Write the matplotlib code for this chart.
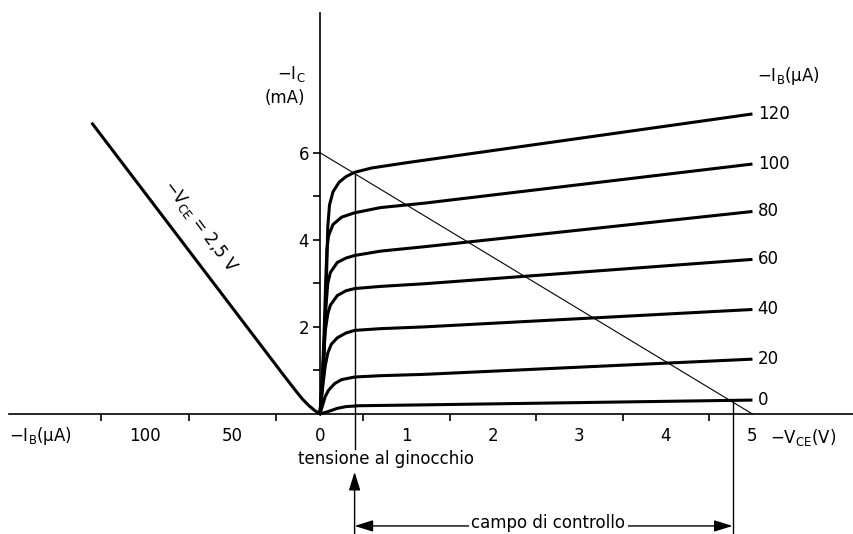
import numpy as np
import matplotlib.pyplot as plt
from matplotlib.ticker import FixedLocator, NullFormatter

plt.rcParams['font.family'] = ['DejaVu Sans']
plt.rcParams['mathtext.fontset'] = 'dejavusans'

# --- output characteristics, -I_C (mA) vs -V_CE (V) ---
ib_values = [120, 100, 80, 60, 40, 20, 0]

v_120 = [0, 0.03, 0.05, 0.065, 0.08, 0.09, 0.11, 0.15, 0.22, 0.3, 0.4, 0.6, 1.0, 5.0]
i_120 = [0, 0.7, 1.5, 2.5, 3.5, 4.3, 4.8, 5.1, 5.32, 5.45, 5.55, 5.65, 5.77, 6.89]
v_100 = [0, 0.03, 0.05, 0.065, 0.08, 0.1, 0.15, 0.25, 0.4, 0.7, 1.2, 5.0]
i_100 = [0, 1.0, 2.0, 3.0, 3.8, 4.1, 4.35, 4.52, 4.62, 4.74, 4.84, 5.74]
v_80 = [0, 0.03, 0.05, 0.07, 0.09, 0.12, 0.2, 0.3, 0.4, 0.7, 1.2, 5.0]
i_80 = [0, 0.8, 1.7, 2.5, 3.0, 3.25, 3.48, 3.58, 3.64, 3.74, 3.84, 4.65]
v_60 = [0, 0.03, 0.06, 0.09, 0.12, 0.2, 0.3, 0.4, 0.7, 1.2, 5.0]
i_60 = [0, 0.9, 1.9, 2.3, 2.5, 2.72, 2.83, 2.88, 2.93, 2.99, 3.55]
v_40 = [0, 0.03, 0.06, 0.09, 0.13, 0.2, 0.3, 0.4, 0.7, 1.2, 5.0]
i_40 = [0, 0.6, 1.1, 1.4, 1.6, 1.75, 1.86, 1.92, 1.96, 2.0, 2.4]
v_20 = [0, 0.03, 0.06, 0.1, 0.17, 0.25, 0.4, 0.7, 1.2, 5.0]
i_20 = [0, 0.2, 0.4, 0.55, 0.7, 0.79, 0.85, 0.88, 0.91, 1.26]
v_0 = [0, 0.1, 0.2, 0.3, 0.45, 1.2, 5.0]
i_0 = [0, 0.06, 0.13, 0.17, 0.19, 0.21, 0.32]

# --- input/transfer curve, -I_C vs -I_B at -V_CE = 2.5 V ---
ib_in = [0, 3, 6, 10, 14, 20, 130]
ic_in = [0, 0.08, 0.18, 0.34, 0.54, 0.85, 6.66]

# --- load line and working range ---
v_load = [0, 5]
i_load = [6, 0]
v_knee = 0.4
v_sat_end = 4.77

curves = [(v_120, i_120), (v_100, i_100), (v_80, i_80), (v_60, i_60),
          (v_40, i_40), (v_20, i_20), (v_0, i_0)]

W, H = 854, 534
x0 = 320  # pixel column of the origin
ylim = (-2.755, 9.506)

fig = plt.figure(figsize=(W / 100, H / 100), dpi=100)
ax_l = fig.add_axes([0, 0, x0 / W, 1])
ax_r = fig.add_axes([x0 / W, 0, (W - x0) / W, 1])

for ax in (ax_l, ax_r):
    ax.set_ylim(*ylim)
    ax.patch.set_alpha(0)
    for s in ('top', 'right', 'left', 'bottom'):
        ax.spines[s].set_visible(False)
    ax.tick_params(labelsize=12)

ax_l.set_xlim(182.9, 0)
ax_r.set_xlim(0, 6.174)

lw_axis = 1.2
# x axis (both halves)
for ax, lo, hi in ((ax_l, 178, 0), (ax_r, 0, 6.174)):
    ax.spines['bottom'].set_visible(True)
    ax.spines['bottom'].set_position(('data', 0))
    ax.spines['bottom'].set_linewidth(lw_axis)
    ax.spines['bottom'].set_bounds(lo, hi)

# y axis
ax_r.spines['left'].set_visible(True)
ax_r.spines['left'].set_position(('data', 0))
ax_r.spines['left'].set_linewidth(lw_axis)
ax_r.spines['left'].set_bounds(0, 9.2)
ax_r.yaxis.set_major_locator(FixedLocator([2, 4, 6]))
ax_r.yaxis.set_minor_locator(FixedLocator([1, 3, 5]))
ax_r.tick_params(axis='y', which='both', direction='out', length=5, width=lw_axis, pad=3)
ax_l.set_yticks([])

# x ticks: labels at integers, marks at halves
ax_r.xaxis.set_major_locator(FixedLocator([0, 1, 2, 3, 4, 5]))
ax_r.xaxis.set_minor_locator(FixedLocator([0.5, 1.5, 2.5, 3.5, 4.5]))
ax_r.xaxis.set_minor_formatter(NullFormatter())
ax_r.tick_params(axis='x', which='major', length=0, pad=9)
ax_r.tick_params(axis='x', which='minor', direction='out', length=5, width=lw_axis)

ax_l.xaxis.set_major_locator(FixedLocator([50, 100]))
ax_l.xaxis.set_minor_locator(FixedLocator([25, 75, 125]))
ax_l.xaxis.set_minor_formatter(NullFormatter())
ax_l.tick_params(axis='x', which='major', length=0, pad=9)
ax_l.tick_params(axis='x', which='minor', direction='out', length=5, width=lw_axis)

# characteristic curves
for (v, i), ib in zip(curves, ib_values):
    ax_r.plot(v, i, color='black', lw=2.2, solid_capstyle='butt',
              solid_joinstyle='round', clip_on=False)
    ax_r.text(v[-1] + 0.06, i[-1], str(ib), fontsize=12, ha='left', va='center')

ax_l.plot(ib_in, ic_in, color='black', lw=2.2, solid_joinstyle='round', clip_on=False)
ax_l.text(68.6, 4.32, r'$-\mathrm{V}_\mathrm{CE}$ = 2,5 V', rotation=-53,
          fontsize=12, ha='center', va='center', rotation_mode='anchor')

# load line
ax_r.plot(v_load, i_load, color='black', lw=0.8, clip_on=False)

# knee voltage marker
ax_r.plot([v_knee, v_knee], [np.interp(v_knee, v_load, i_load), -0.8],
          color='black', lw=1.0)
ax_r.text(0.763, -1.03, 'tensione al ginocchio', fontsize=12, ha='center', va='center')
ax_r.annotate('', xy=(v_knee, -1.33), xytext=(v_knee, ylim[0]),
              arrowprops=dict(arrowstyle='-|>,head_length=0.8,head_width=0.25',
                              color='black', lw=1.0, shrinkA=0, shrinkB=0,
                              mutation_scale=14))

# end of control range
ax_r.plot([v_sat_end, v_sat_end], [np.interp(v_sat_end, v_load, i_load), ylim[0]],
          color='black', lw=1.0)
ax_r.annotate('', xy=(v_knee, -2.57), xytext=(v_sat_end, -2.57),
              arrowprops=dict(arrowstyle='<|-|>,head_length=0.8,head_width=0.25',
                              color='black', lw=1.0, shrinkA=0, shrinkB=0,
                              mutation_scale=14))
ax_r.text(2.64, -2.5, 'campo di controllo', fontsize=12, ha='center', va='center',
          bbox=dict(facecolor='white', edgecolor='none', pad=2))

# axis titles
ax_l.text(8.6, 7.8, r'$-\mathrm{I}_\mathrm{C}$', fontsize=12, ha='right', va='center')
ax_l.text(8.6, 7.26, '(mA)', fontsize=12, ha='right', va='center')
ax_r.text(5.05, 7.76, r'$-\mathrm{I}_\mathrm{B}$(µA)', fontsize=12, ha='left', va='center')
ax_l.text(178, -0.5, r'$-\mathrm{I}_\mathrm{B}$(µA)', fontsize=12, ha='left', va='center')
ax_r.text(5.2, -0.55, r'$-\mathrm{V}_\mathrm{CE}$(V)', fontsize=12, ha='left', va='center')

fig.savefig('out.png', dpi=100)
